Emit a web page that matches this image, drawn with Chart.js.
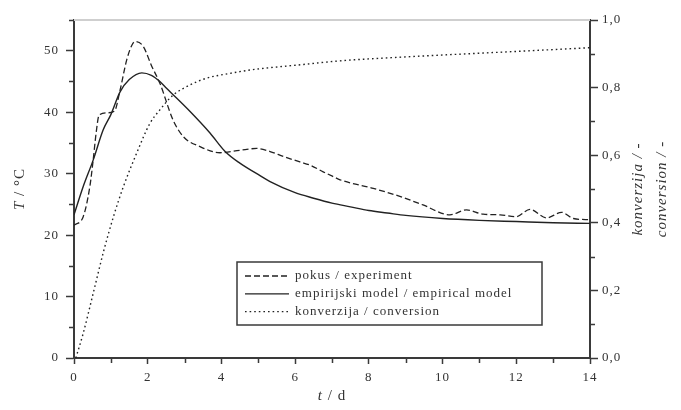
<!DOCTYPE html>
<html>
<head>
<meta charset="utf-8">
<script src="https://cdn.jsdelivr.net/npm/chart.js@4"></script>
<style>
  html, body { margin: 0; padding: 0; background: #fff; }
  canvas { display: block; }
</style>
</head>
<body>
<canvas id="chart" width="681" height="410"></canvas>
<script>
// pokus / experiment
const tExp = [0, 0.25, 0.43, 0.52, 0.6, 0.68, 0.9, 1.1, 1.25, 1.43, 1.57, 1.66, 1.88, 2.1, 2.33, 2.69, 2.97, 3.42, 3.96, 4.5, 4.96, 5.32, 5.68, 6.13, 6.4, 6.76, 7.04, 7.22, 8.12, 8.84, 9.47, 10.2, 10.65, 11.1, 11.56, 12.0, 12.37, 12.82, 13.23, 13.55, 14];
const tempExp = [21.6, 23, 27.9, 32.2, 36.6, 39.5, 39.9, 40.2, 43.6, 48.5, 50.9, 51.5, 50.7, 47.6, 44.7, 38.7, 36.0, 34.4, 33.4, 33.8, 34.1, 33.6, 32.8, 31.9, 31.4, 30.3, 29.5, 29.0, 27.6, 26.3, 24.9, 23.3, 24.1, 23.4, 23.3, 23.0, 24.2, 22.8, 23.7, 22.7, 22.5];

// empirijski model / empirical model
const tModel = [0, 0.25, 0.52, 0.79, 1.0, 1.25, 1.5, 1.84, 2.1, 2.33, 2.51, 3.15, 3.69, 4.1, 4.5, 4.96, 5.32, 6.0, 6.5, 7.0, 7.5, 8.0, 8.5, 9.0, 10.0, 11.0, 12.0, 13.0, 14.0];
const tempModel = [23.3, 27.9, 32.2, 37.1, 39.6, 43.3, 45.3, 46.4, 46.0, 45.0, 43.9, 40.1, 36.6, 33.6, 31.7, 30.0, 28.7, 26.9, 26.0, 25.2, 24.6, 24.0, 23.6, 23.2, 22.7, 22.4, 22.2, 22.0, 21.9];

// konverzija / conversion
const tConv = [0.05, 0.25, 0.52, 0.79, 1.07, 1.34, 1.7, 2.06, 2.33, 2.69, 3.15, 3.6, 4.23, 4.77, 5.32, 6.0, 7.2, 8.5, 9.93, 12.0, 14.0];
const convValues = [0, 0.073, 0.191, 0.31, 0.418, 0.507, 0.606, 0.694, 0.734, 0.778, 0.808, 0.828, 0.842, 0.852, 0.859, 0.866, 0.879, 0.888, 0.896, 0.907, 0.918];

const seriesLabels = ["pokus / experiment", "empirijski model / empirical model", "konverzija / conversion"];

// ticks
const xTicks = [0, 2, 4, 6, 8, 10, 12, 14];
const xMinorTicks = [1, 3, 5, 7, 9, 11, 13];
const yTicks = [0, 10, 20, 30, 40, 50];
const yMinorTicks = [5, 15, 25, 35, 45, 55];
const y1Ticks = [0, 0.2, 0.4, 0.6, 0.8, 1.0];
const y1TickLabels = ["0,0", "0,2", "0,4", "0,6", "0,8", "1,0"];
const y1MinorTicks = [0.1, 0.3, 0.5, 0.7, 0.9];

const axisColor = "#3a3a3a";
const lineColor = "#222";
const textColor = "#333";
const serif = '"Liberation Serif", "DejaVu Serif", serif';

function pts(xs, ys) {
  return xs.map((x, i) => ({ x: x, y: ys[i] }));
}

// letter spacing like the scanned figure
const spacingPlugin = {
  id: "spacing",
  beforeDraw(chart) {
    chart.ctx.letterSpacing = "1px";
  }
};

// minor ticks, top border line, axis titles
const decorPlugin = {
  id: "decor",
  afterDraw(chart) {
    const ctx = chart.ctx;
    const a = chart.chartArea;
    const sx = chart.scales.x, sy = chart.scales.y, sy1 = chart.scales.y1;
    ctx.save();
    // top line
    ctx.strokeStyle = "#cfcfcf";
    ctx.lineWidth = 2;
    ctx.beginPath();
    ctx.moveTo(a.left, a.top);
    ctx.lineTo(a.right, a.top);
    ctx.stroke();

    ctx.strokeStyle = axisColor;
    ctx.lineWidth = 1.5;
    ctx.beginPath();
    xMinorTicks.forEach(v => {
      const p = Math.round(sx.getPixelForValue(v)) + 0.5;
      ctx.moveTo(p, a.bottom);
      ctx.lineTo(p, a.bottom + 5);
    });
    yMinorTicks.forEach(v => {
      const p = Math.round(sy.getPixelForValue(v)) + 0.5;
      ctx.moveTo(a.left, p);
      ctx.lineTo(a.left - 5, p);
    });
    y1MinorTicks.forEach(v => {
      const p = Math.round(sy1.getPixelForValue(v)) + 0.5;
      ctx.moveTo(a.right, p);
      ctx.lineTo(a.right + 5, p);
    });
    ctx.stroke();

    // axis titles
    ctx.fillStyle = textColor;
    ctx.letterSpacing = "1px";
    ctx.textBaseline = "middle";
    const italic = "italic 15px " + serif;
    const normal = "15px " + serif;

    function mixed(parts, cx, cy, rot) {
      ctx.save();
      ctx.translate(cx, cy);
      ctx.rotate(rot);
      let total = 0;
      parts.forEach(p => { ctx.font = p[1]; total += ctx.measureText(p[0]).width; });
      let x = -total / 2;
      ctx.textAlign = "left";
      parts.forEach(p => {
        ctx.font = p[1];
        ctx.fillText(p[0], x, 0);
        x += ctx.measureText(p[0]).width;
      });
      ctx.restore();
    }
    const midY = (a.top + a.bottom) / 2;
    mixed([["T", italic], [" / °C", normal]], 20, midY, -Math.PI / 2);
    mixed([["t", italic], [" / d", normal]], (a.left + a.right) / 2, 396, 0);
    mixed([["konverzija / -", italic]], 638, midY, -Math.PI / 2);
    mixed([["conversion / -", italic]], 662, midY, -Math.PI / 2);
    ctx.restore();
  }
};

// legend box inside the plot
const legendPlugin = {
  id: "boxLegend",
  afterDraw(chart) {
    const ctx = chart.ctx;
    const box = { x: 237, y: 262, w: 305, h: 63 };
    ctx.save();
    ctx.fillStyle = "#fff";
    ctx.fillRect(box.x, box.y, box.w, box.h);
    ctx.strokeStyle = axisColor;
    ctx.lineWidth = 1.5;
    ctx.strokeRect(box.x, box.y, box.w, box.h);
    ctx.font = "13px " + serif;
    ctx.letterSpacing = "1px";
    ctx.textBaseline = "middle";
    ctx.fillStyle = textColor;
    chart.data.datasets.forEach((ds, i) => {
      const yy = box.y + 14 + i * 17.8;
      ctx.save();
      ctx.strokeStyle = lineColor;
      ctx.lineWidth = 1.3;
      ctx.setLineDash(ds.borderDash || []);
      ctx.beginPath();
      ctx.moveTo(box.x + 8, yy);
      ctx.lineTo(box.x + 52, yy);
      ctx.stroke();
      ctx.restore();
      ctx.fillText(ds.label, box.x + 58, yy);
    });
    ctx.restore();
  }
};

new Chart(document.getElementById("chart"), {
  type: "line",
  data: {
    datasets: [
      {
        label: seriesLabels[0],
        data: pts(tExp, tempExp),
        borderColor: lineColor,
        borderWidth: 1.3,
        borderDash: [6, 3],
        pointRadius: 0,
        cubicInterpolationMode: "monotone",
        yAxisID: "y"
      },
      {
        label: seriesLabels[1],
        data: pts(tModel, tempModel),
        borderColor: lineColor,
        borderWidth: 1.4,
        pointRadius: 0,
        cubicInterpolationMode: "monotone",
        yAxisID: "y"
      },
      {
        label: seriesLabels[2],
        data: pts(tConv, convValues),
        borderColor: lineColor,
        borderWidth: 1.4,
        borderDash: [1.6, 3],
        pointRadius: 0,
        cubicInterpolationMode: "monotone",
        yAxisID: "y1"
      }
    ]
  },
  options: {
    responsive: false,
    animation: false,
    devicePixelRatio: 1,
    layout: { padding: { top: 20, left: 0, right: 0, bottom: 0 } },
    plugins: {
      legend: { display: false },
      tooltip: { enabled: false }
    },
    scales: {
      x: {
        type: "linear",
        min: 0,
        max: 14,
        afterBuildTicks: s => { s.ticks = xTicks.map(v => ({ value: v })); },
        afterFit: s => { s.height = 52; },
        grid: { drawOnChartArea: false, drawTicks: true, tickLength: 6, tickWidth: 1.5, tickColor: axisColor },
        border: { color: axisColor, width: 2 },
        ticks: { color: textColor, padding: 6, maxRotation: 0, font: { family: serif, size: 13 } }
      },
      y: {
        position: "left",
        min: 0,
        max: 55,
        afterBuildTicks: s => { s.ticks = yTicks.map(v => ({ value: v })); },
        afterFit: s => { s.width = 74; },
        grid: { drawOnChartArea: false, drawTicks: true, tickLength: 8, tickWidth: 1.5, tickColor: axisColor },
        border: { color: axisColor, width: 2 },
        ticks: { color: textColor, padding: 7, font: { family: serif, size: 13 } }
      },
      y1: {
        position: "right",
        min: 0,
        max: 1,
        afterBuildTicks: s => { s.ticks = y1Ticks.map(v => ({ value: v })); },
        afterFit: s => { s.width = 91; },
        grid: { drawOnChartArea: false, drawTicks: true, tickLength: 8, tickWidth: 1.5, tickColor: axisColor },
        border: { color: axisColor, width: 2 },
        ticks: {
          color: textColor,
          padding: 4,
          font: { family: serif, size: 13 },
          callback: (v) => y1TickLabels[y1Ticks.findIndex(t => Math.abs(t - v) < 1e-9)]
        }
      }
    }
  },
  plugins: [spacingPlugin, decorPlugin, legendPlugin]
});
</script>
</body>
</html>
